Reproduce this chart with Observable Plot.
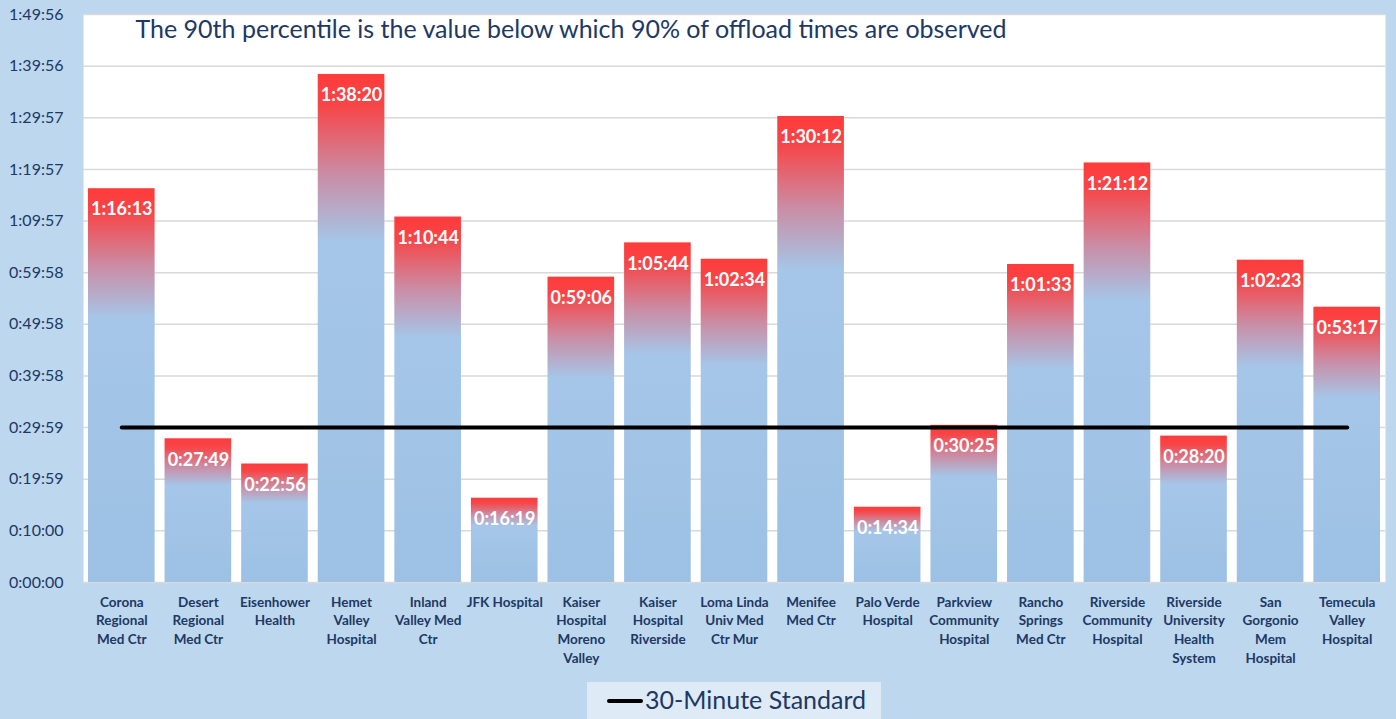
<!DOCTYPE html>
<html>
<head>
<meta charset="utf-8">
<script src="https://cdn.jsdelivr.net/npm/d3@7"></script>
<script src="https://cdn.jsdelivr.net/npm/@observablehq/plot@0.6"></script>
<style>
  html, body { margin: 0; padding: 0; background: #bdd7ee; overflow: hidden; width: 1396px; height: 719px; }
  #chart { position: absolute; left: 0; top: 0; }
  #legend { position: absolute; left: 587px; top: 682px; width: 294px; height: 40px; background: #deeaf6;
    font-family: Lato, "Open Sans", sans-serif; font-size: 25px; color: #203864; }
  #legend .swatch { position: absolute; left: 20px; top: 17px; width: 36px; height: 4px; background: #000; border-radius: 2px; }
  #legend .lbl { position: absolute; left: 58px; top: 2px; white-space: nowrap; }
</style>
</head>
<body>
<div id="chart"></div>
<div id="legend"><span class="swatch"></span><span class="lbl">30-Minute Standard</span></div>
<script>
const hospitals = [
  "Corona Regional Med Ctr", "Desert Regional Med Ctr", "Eisenhower Health", "Hemet Valley Hospital",
  "Inland Valley Med Ctr", "JFK Hospital", "Kaiser Hospital Moreno Valley", "Kaiser Hospital Riverside",
  "Loma Linda Univ Med Ctr Mur", "Menifee Med Ctr", "Palo Verde Hospital", "Parkview Community Hospital",
  "Rancho Springs Med Ctr", "Riverside Community Hospital", "Riverside University Health System",
  "San Gorgonio Mem Hospital", "Temecula Valley Hospital"
];
const wrappedLabels = [
  "Corona\nRegional\nMed Ctr", "Desert\nRegional\nMed Ctr", "Eisenhower\nHealth", "Hemet\nValley\nHospital",
  "Inland\nValley Med\nCtr", "JFK Hospital", "Kaiser\nHospital\nMoreno\nValley", "Kaiser\nHospital\nRiverside",
  "Loma Linda\nUniv Med\nCtr Mur", "Menifee\nMed Ctr", "Palo Verde\nHospital", "Parkview\nCommunity\nHospital",
  "Rancho\nSprings\nMed Ctr", "Riverside\nCommunity\nHospital", "Riverside\nUniversity\nHealth\nSystem",
  "San\nGorgonio\nMem\nHospital", "Temecula\nValley\nHospital"
];
const percentile90 = [
  "1:16:13", "0:27:49", "0:22:56", "1:38:20", "1:10:44", "0:16:19", "0:59:06", "1:05:44",
  "1:02:34", "1:30:12", "0:14:34", "0:30:25", "1:01:33", "1:21:12", "0:28:20", "1:02:23", "0:53:17"
];
const yTickLabels = [
  "0:00:00", "0:10:00", "0:19:59", "0:29:59", "0:39:58", "0:49:58", "0:59:58",
  "1:09:57", "1:19:57", "1:29:57", "1:39:56", "1:49:56"
];
const standardLabel = "0:30:00";
const titleText = "The 90th percentile is the value below which 90% of offload times are observed";

const toSec = s => { const [h, m, x] = s.split(":").map(Number); return h * 3600 + m * 60 + x; };
const yTicks = yTickLabels.map(toSec);
const tickLabelMap = new Map(yTicks.map((t, i) => [t, yTickLabels[i]]));
const standard = toSec(standardLabel);
const data = hospitals.map((h, i) => ({ name: h, wrapped: wrappedLabels[i], label: percentile90[i], secs: toSec(percentile90[i]) }));

const navy = "#203864";
const svg = Plot.plot({
  width: 1396, height: 680,
  marginLeft: 83, marginRight: 11, marginTop: 14, marginBottom: 98,
  style: { background: "transparent", fontFamily: "Lato, 'Open Sans', sans-serif", color: navy, overflow: "visible" },
  x: { domain: hospitals, paddingInner: 0.13, paddingOuter: 0.065, round: false, axis: null },
  y: { domain: [0, yTicks[yTicks.length - 1]], axis: null },
  marks: [
    Plot.frame({ fill: "white", stroke: null }),
    Plot.ruleY(yTicks, { stroke: "#d9d9d9", strokeWidth: 1.5 }),
    Plot.axisY({ ticks: yTicks, tickFormat: d => tickLabelMap.get(d), tickSize: 0, tickPadding: 20, fontSize: 16, label: null, fill: navy }),
    Plot.barY(data, { x: "name", y: "secs", fill: "url(#barGrad)" }),
    Plot.text(data, { x: "name", y: "secs", text: "label", dy: 21, fill: "white", fontWeight: "bold", fontSize: 18 }),
    Plot.line(data, { x: "name", y: () => standard, stroke: "black", strokeWidth: 4, strokeLinecap: "round" }),
    Plot.text(data, { x: "name", y: () => 0, text: "wrapped", lineAnchor: "top", dy: 11, fontWeight: "bold", fontSize: 13.5, lineHeight: 1.38, fill: navy }),
    Plot.text([titleText], { frameAnchor: "top-left", dx: 52, dy: 6, lineAnchor: "top", textAnchor: "start", fontSize: 25, fill: navy })
  ]
});

const defs = d3.select(svg).insert("defs", ":first-child");
const g = defs.append("linearGradient").attr("id", "barGrad").attr("x1", 0).attr("y1", 0).attr("x2", 0).attr("y2", 1);
[[0, "#ff3b3b"], [0.06, "#f74547"], [0.2, "#c98ea6"], [0.33, "#a5c6e8"], [1, "#9cc1e4"]].forEach(([o, c]) =>
  g.append("stop").attr("offset", o).attr("stop-color", c));

document.getElementById("chart").appendChild(svg);
</script>
</body>
</html>
